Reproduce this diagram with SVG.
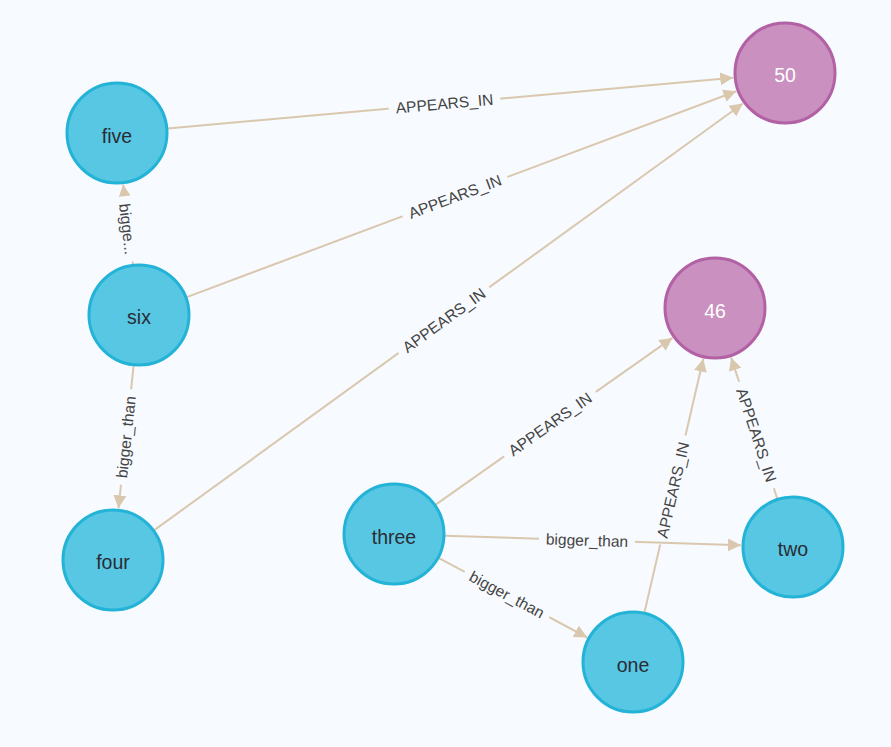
<svg xmlns="http://www.w3.org/2000/svg" width="891" height="747" viewBox="0 0 891 747">
<style>
.edge{stroke:#D9C8AE;stroke-width:2;fill:none;marker-end:url(#arrow)}
.gap{fill:#F7FAFE}
.elabel{font-family:"Liberation Sans",Arial,sans-serif;font-size:15.6px;fill:#444;text-anchor:middle;dominant-baseline:central}
.blue circle{fill:#57C7E3;stroke:#23B3D7;stroke-width:3}
.purple circle{fill:#C990C0;stroke:#B261A5;stroke-width:3}
.nlabel{font-family:"Liberation Sans",Arial,sans-serif;font-size:19.5px;text-anchor:middle;dominant-baseline:central}
.blue .nlabel{fill:#2A2C34}
.purple .nlabel{fill:#FFFFFF}
</style>
<defs>
<marker id="arrow" markerUnits="userSpaceOnUse" markerWidth="14" markerHeight="14" viewBox="0 0 14 14" refX="13" refY="7" orient="auto">
<path d="M0,0.5 L13,7 L0,13.5 z" fill="#D9C8AE"/>
</marker>
</defs>
<rect width="891" height="747" fill="#F7FAFE"/>
<g id="connectors">
<path class="edge" d="M167.8,128.4 L733.2,77.7"/>
<g transform="translate(444.5,103.6) rotate(-5.13)"><rect class="gap" x="-56" y="-9" width="112" height="18"/><text class="elabel">APPEARS_IN</text></g>
<path class="edge" d="M186.8,297.1 L736.3,91.2"/>
<g transform="translate(455,196.6) rotate(-20.54)"><rect class="gap" x="-56" y="-9" width="112" height="18"/><text class="elabel">APPEARS_IN</text></g>
<path class="edge" d="M154.3,530.1 L742.9,103.5"/>
<g transform="translate(444,320.2) rotate(-35.93)"><rect class="gap" x="-56" y="-9" width="112" height="18"/><text class="elabel">APPEARS_IN</text></g>
<path class="edge" d="M132.9,264.4 L123.2,184.6"/>
<g transform="translate(127.5,229) rotate(83.1)"><rect class="gap" x="-33" y="-9" width="66" height="18"/><text class="elabel">bigge...</text></g>
<path class="edge" d="M133.6,365.7 L118.5,508.3"/>
<g transform="translate(126,437) rotate(-83.94)"><rect class="gap" x="-48" y="-9" width="96" height="18"/><text class="elabel">bigger_than</text></g>
<path class="edge" d="M435.7,504.6 L672.5,337.9"/>
<g transform="translate(550,424.1) rotate(-35.15)"><rect class="gap" x="-56" y="-9" width="112" height="18"/><text class="elabel">APPEARS_IN</text></g>
<path class="edge" d="M644.5,612.3 L703.3,358.7"/>
<g transform="translate(673,490) rotate(-76.96)"><rect class="gap" x="-56" y="-9" width="112" height="18"/><text class="elabel">APPEARS_IN</text></g>
<path class="edge" d="M777.2,498.5 L731.1,357.4"/>
<g transform="translate(756.5,435) rotate(71.93)"><rect class="gap" x="-56" y="-9" width="112" height="18"/><text class="elabel">APPEARS_IN</text></g>
<path class="edge" d="M445,535.7 L741,545.3"/>
<g transform="translate(587,540.3) rotate(1.87)"><rect class="gap" x="-48" y="-9" width="96" height="18"/><text class="elabel">bigger_than</text></g>
<path class="edge" d="M439,558.1 L587.2,637.5"/>
<g transform="translate(507,594.5) rotate(28.17)"><rect class="gap" x="-48" y="-9" width="96" height="18"/><text class="elabel">bigger_than</text></g>
</g>
<g id="node-five" class="blue"><circle cx="117" cy="133" r="50"/><text class="nlabel" x="117" y="136">five</text></g>
<g id="node-six" class="blue"><circle cx="139" cy="315" r="50"/><text class="nlabel" x="139" y="317">six</text></g>
<g id="node-four" class="blue"><circle cx="113" cy="560" r="50"/><text class="nlabel" x="113" y="562">four</text></g>
<g id="node-three" class="blue"><circle cx="394" cy="534" r="50"/><text class="nlabel" x="394" y="537">three</text></g>
<g id="node-one" class="blue"><circle cx="633" cy="662" r="50"/><text class="nlabel" x="633" y="665">one</text></g>
<g id="node-two" class="blue"><circle cx="793" cy="547" r="50"/><text class="nlabel" x="793" y="549">two</text></g>
<g id="node-50" class="purple"><circle cx="785" cy="73" r="50"/><text class="nlabel" x="785" y="75">50</text></g>
<g id="node-46" class="purple"><circle cx="715" cy="308" r="50"/><text class="nlabel" x="715" y="311">46</text></g>
</svg>
